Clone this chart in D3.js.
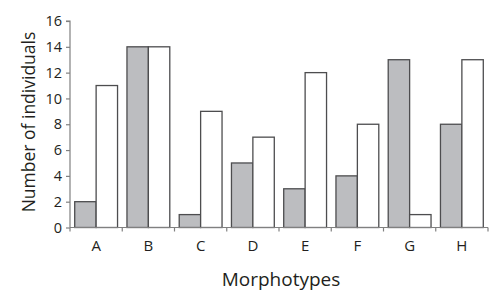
<!DOCTYPE html>
<html lang="en">
<head>
    <meta charset="UTF-8">
    <script src="https://cdn.jsdelivr.net/npm/d3@7"></script>
    <title>Morphotypes</title>
    <style>
        body { margin: 0; background: white; }
        text { font-family: "Open Sans", sans-serif; fill: #231f20; }
    </style>
</head>
<body>
    <div class="chart"></div>
    <script>
        const categories = ["A", "B", "C", "D", "E", "F", "G", "H"];
        const greyValues = [2, 14, 1, 5, 3, 4, 13, 8];
        const whiteValues = [11, 14, 9, 7, 12, 8, 1, 13];
        const yTicks = [0, 2, 4, 6, 8, 10, 12, 14, 16];

        const width = 496, height = 295;
        const margin = {top: 21, right: 8, bottom: 67, left: 70};

        const svg = d3.select(".chart").append("svg")
            .attr("width", width)
            .attr("height", height);

        const x = d3.scaleBand()
            .domain(categories)
            .range([margin.left, 488])
            .paddingInner(0)
            .paddingOuter(0);

        const inner = d3.scaleBand()
            .domain(["grey", "white"])
            .range([0, x.bandwidth()])
            .paddingInner(0)
            .paddingOuter(0.22);

        const y = d3.scaleLinear()
            .domain([0, 16])
            .range([height - margin.bottom - 0.5, margin.top]);

        const rows = categories.map((c, i) => ({cat: c, grey: greyValues[i], white: whiteValues[i]}));

        const groups = svg.selectAll("g.grp")
            .data(rows)
            .enter().append("g")
            .attr("class", "grp")
            .attr("transform", d => `translate(${x(d.cat)},0)`);

        groups.append("rect")
            .attr("x", inner("grey"))
            .attr("y", d => y(d.grey))
            .attr("width", inner.bandwidth())
            .attr("height", d => y(0) - y(d.grey))
            .attr("fill", "#bcbdc0")
            .attr("stroke", "#4d4d4f")
            .attr("stroke-width", 1.3);

        groups.append("rect")
            .attr("x", inner("white"))
            .attr("y", d => y(d.white))
            .attr("width", inner.bandwidth())
            .attr("height", d => y(0) - y(d.white))
            .attr("fill", "#ffffff")
            .attr("stroke", "#4d4d4f")
            .attr("stroke-width", 1.3);

        // y axis
        const yAxis = svg.append("g")
            .attr("transform", `translate(${margin.left},0)`)
            .call(d3.axisLeft(y).tickValues(yTicks).tickSize(4).tickPadding(4));
        yAxis.selectAll("path, line").attr("stroke", "#808080").attr("stroke-width", 1.2);
        yAxis.select(".domain").attr("d", `M-4,${y(16)}H0V${y(0)}`);
        yAxis.selectAll("text").style("font-size", "14.5px").attr("fill", "#231f20");

        // x axis
        const xAxis = svg.append("g")
            .attr("transform", `translate(0,${y(0)})`)
            .call(d3.axisBottom(x).tickSize(0).tickPadding(13));
        xAxis.select(".domain").attr("stroke", "#808080").attr("stroke-width", 1.2)
            .attr("d", `M${margin.left},0H488`);
        xAxis.selectAll("text").style("font-size", "15px").attr("fill", "#231f20");

        // x tick marks at band boundaries
        svg.append("g")
            .selectAll("line")
            .data(categories.concat(["end"]))
            .enter().append("line")
            .attr("x1", (d, i) => margin.left + i * x.bandwidth())
            .attr("x2", (d, i) => margin.left + i * x.bandwidth())
            .attr("y1", y(0))
            .attr("y2", y(0) + 4)
            .attr("stroke", "#808080")
            .attr("stroke-width", 1.2);

        svg.append("text")
            .attr("x", (margin.left + 488) / 2 + 2)
            .attr("y", 286)
            .attr("text-anchor", "middle")
            .style("font-size", "19px")
            .text("Morphotypes");

        svg.append("text")
            .attr("transform", `translate(35,122) rotate(-90)`)
            .attr("text-anchor", "middle")
            .style("font-size", "17.5px")
            .text("Number of individuals");
    </script>
</body>
</html>
